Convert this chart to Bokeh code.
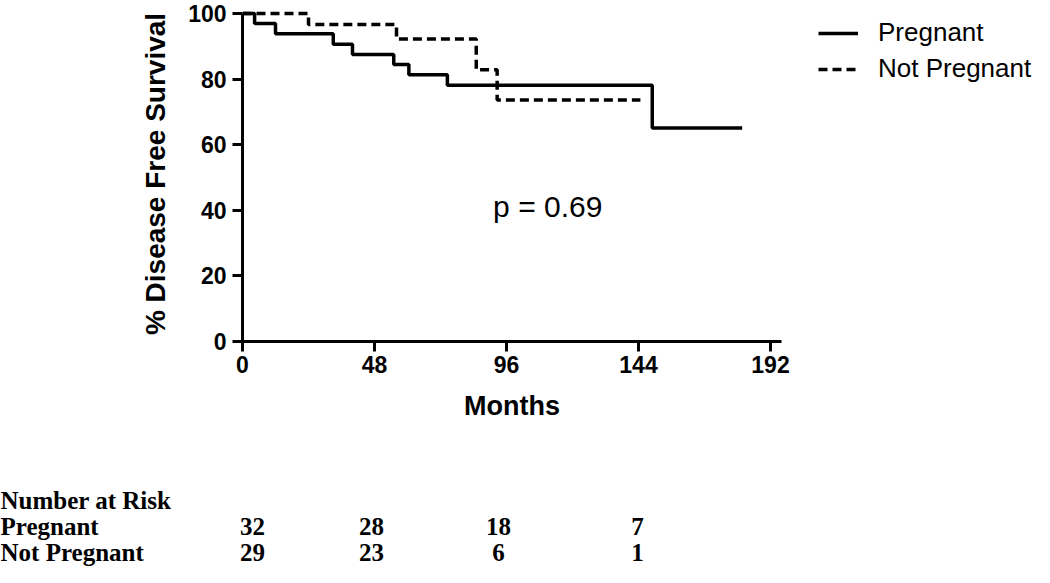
from bokeh.plotting import figure
from bokeh.models import Range1d, FixedTicker, Label, Legend, LegendItem, ColumnDataSource
from bokeh.embed import file_html
from bokeh.resources import INLINE
from bokeh.core.properties import value

# ---------------- data ----------------
preg_months = [0, 4.4, 12, 33, 40, 55, 60.5, 74.5, 149, 181.7]
preg_surv = [100, 96.9, 93.8, 90.6, 87.5, 84.4, 81.3, 78.1, 65.1, 65.1]

notpreg_months = [0, 24, 56, 85, 92.6, 144.7]
notpreg_surv = [100, 96.6, 92.2, 82.8, 73.6, 73.6]

x_ticks = [0, 48, 96, 144, 192]
y_ticks = [0, 20, 40, 60, 80, 100]

risk_times = [0, 48, 96, 144]
risk_pregnant = [32, 28, 18, 7]
risk_not_pregnant = [29, 23, 6, 1]
risk_rows = ["Number at Risk", "Pregnant", "Not Pregnant"]

p_text = "p = 0.69"

# ---------------- layout constants ----------------
SANS = "Liberation Sans"
SERIF = "Liberation Serif"
W = 1034
LEFT = 242          # px of month 0
PPM = 2.75          # px per month
X_MAX = 196
FRAME_W = int(round(X_MAX * PPM))
TOP = 6
FRAME_H = 335
RIGHT = W - LEFT - FRAME_W
MAIN_H = 424

# ---------------- main plot ----------------
p = figure(frame_width=FRAME_W, frame_height=FRAME_H,
           output_backend="svg", toolbar_location=None,
           x_range=Range1d(0, X_MAX), y_range=Range1d(0, 102.1),
           min_border_left=LEFT, min_border_right=RIGHT,
           min_border_top=TOP, min_border_bottom=MAIN_H - FRAME_H - TOP)
p.outline_line_color = None
p.grid.visible = False
p.background_fill_color = "white"
p.border_fill_color = "white"

r1 = p.step(preg_months, preg_surv, mode="after", line_color="black", line_width=3.5)
r2 = p.step(notpreg_months, notpreg_surv, mode="after", line_color="black",
            line_width=3.5, line_dash="9 5")

for ax in (p.xaxis[0], p.yaxis[0]):
    ax.axis_line_width = 3
    ax.major_tick_line_width = 3
    ax.major_tick_out = 10
    ax.major_tick_in = 0
    ax.minor_tick_line_color = None
    ax.major_label_text_font = SANS
    ax.major_label_text_font_style = "bold"
    ax.major_label_text_font_size = "23px"
    ax.major_label_text_color = "black"
    ax.axis_label_text_font = SANS
    ax.axis_label_text_font_style = "bold"
    ax.axis_label_text_color = "black"

p.xaxis.ticker = FixedTicker(ticks=x_ticks)
p.yaxis.ticker = FixedTicker(ticks=y_ticks)
p.yaxis.bounds = (0, 100)
p.xaxis.major_label_standoff = 4
p.yaxis.major_label_standoff = 6
p.xaxis.axis_label = "Months"
p.xaxis.axis_label_text_font_size = "27px"
p.xaxis.axis_label_standoff = 15
p.yaxis.axis_label = "% Disease Free Survival"
p.yaxis.axis_label_text_font_size = "28px"
p.yaxis.axis_label_standoff = 14

legend = Legend(items=[LegendItem(label="Pregnant", renderers=[r1]),
                       LegendItem(label="Not Pregnant", renderers=[r2])],
                location=(37, FRAME_H - 14 - 64), orientation="vertical")
legend.label_text_font = SANS
legend.label_text_font_size = "26px"
legend.label_text_color = "black"
legend.glyph_width = 40
legend.glyph_height = 30
legend.label_height = 30
legend.label_standoff = 20
legend.spacing = 5
legend.padding = 0
legend.margin = 0
legend.border_line_color = None
legend.background_fill_alpha = 0
p.add_layout(legend, "right")

p.add_layout(Label(x=111, y=41.2, text=p_text, text_align="center",
                   text_baseline="middle", text_font=SANS,
                   text_font_size="30px", text_color="black"))

# ---------------- number-at-risk table ----------------
TH = 567 - MAIN_H
ROW_PX = 26
FIRST_ROW_PX = 500 - MAIN_H
t = figure(width=W, height=TH, output_backend="svg", toolbar_location=None,
           x_range=Range1d(-LEFT / PPM, (W - LEFT) / PPM),
           y_range=Range1d((TH - FIRST_ROW_PX) / ROW_PX, -FIRST_ROW_PX / ROW_PX),
           min_border=0, min_border_left=0, min_border_right=0,
           min_border_top=0, min_border_bottom=0)
t.axis.visible = False
t.grid.visible = False
t.outline_line_color = None
t.background_fill_color = "white"
t.border_fill_color = "white"

row_src = ColumnDataSource(dict(x=[-LEFT / PPM] * 3, y=[0, 1, 2], text=risk_rows))
t.text(x="x", y="y", text="text", source=row_src, text_align="left",
       text_baseline="middle", text_font=value(SERIF), text_font_style="bold",
       text_font_size="25px", text_color="black")

col_nudge = [10, -3, -8, -1]
nx, ny, nt, nd = [], [], [], []
for row, vals in ((1, risk_pregnant), (2, risk_not_pregnant)):
    for tm, v, dx in zip(risk_times, vals, col_nudge):
        nx.append(tm); ny.append(row); nt.append(str(v)); nd.append(dx)
num_src = ColumnDataSource(dict(x=nx, y=ny, text=nt, dx=nd))
t.text(x="x", y="y", text="text", x_offset="dx", source=num_src, text_align="center",
       text_baseline="middle", text_font=value(SERIF), text_font_style="bold",
       text_font_size="25px", text_color="black")

open("out.html", "w").write(file_html([p, t], INLINE))
